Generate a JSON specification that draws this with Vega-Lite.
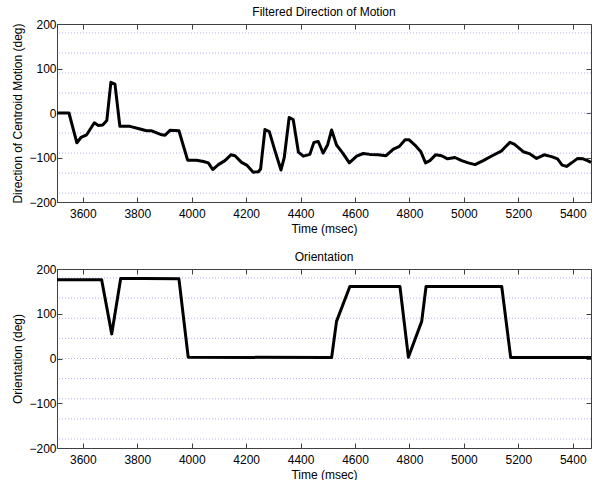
{
  "$schema": "https://vega.github.io/schema/vega-lite/v6.json",
  "autosize": {"type": "pad"},
  "padding": {"left": 11, "top": 6, "right": 0, "bottom": 0},
  "background": "white",
  "config": {
    "view": {"stroke": null},
    "font": "Liberation Sans",
    "axis": {"labelFont": "Liberation Sans", "titleFont": "Liberation Sans", "labelFontSize": 12, "titleFontSize": 12, "titleFontWeight": "normal", "labelColor": "#000", "titleColor": "#000", "domainColor": "#404040", "tickColor": "#404040", "tickSize": -5, "grid": false, "labelPadding": 6},
    "axisX": {"labelPadding": 11, "format": "d"},
    "title": {"font": "Liberation Sans", "fontSize": 12, "fontWeight": "normal", "color": "#000", "offset": -1},
    "concat": {"spacing": 17}
  },
  "datasets": {
    "grid": [{"g": 180}, {"g": 135}, {"g": 90}, {"g": 45}, {"g": 0}, {"g": -45}, {"g": -90}, {"g": -135}, {"g": -180}],
    "motion": [
      {"t": 3505, "v": 0}, {"t": 3549, "v": 0}, {"t": 3578, "v": -67}, {"t": 3593, "v": -55}, {"t": 3614, "v": -49},
      {"t": 3642, "v": -22}, {"t": 3657, "v": -28}, {"t": 3673, "v": -27}, {"t": 3688, "v": -17}, {"t": 3703, "v": 69},
      {"t": 3718, "v": 65}, {"t": 3736, "v": -30}, {"t": 3773, "v": -30}, {"t": 3810, "v": -36}, {"t": 3834, "v": -40},
      {"t": 3853, "v": -40}, {"t": 3890, "v": -49}, {"t": 3902, "v": -50}, {"t": 3920, "v": -39}, {"t": 3953, "v": -40},
      {"t": 3969, "v": -73}, {"t": 3985, "v": -106}, {"t": 4018, "v": -106}, {"t": 4043, "v": -109}, {"t": 4061, "v": -112},
      {"t": 4077, "v": -127}, {"t": 4098, "v": -116}, {"t": 4122, "v": -107}, {"t": 4144, "v": -94}, {"t": 4159, "v": -96},
      {"t": 4183, "v": -111}, {"t": 4202, "v": -117}, {"t": 4226, "v": -133}, {"t": 4245, "v": -132}, {"t": 4253, "v": -126},
      {"t": 4269, "v": -37}, {"t": 4285, "v": -42}, {"t": 4306, "v": -85}, {"t": 4328, "v": -128}, {"t": 4340, "v": -100},
      {"t": 4358, "v": -10}, {"t": 4373, "v": -15}, {"t": 4392, "v": -88}, {"t": 4410, "v": -97}, {"t": 4434, "v": -93},
      {"t": 4449, "v": -66}, {"t": 4465, "v": -64}, {"t": 4483, "v": -90}, {"t": 4499, "v": -72}, {"t": 4514, "v": -38},
      {"t": 4532, "v": -72}, {"t": 4555, "v": -90}, {"t": 4579, "v": -112}, {"t": 4606, "v": -97}, {"t": 4630, "v": -91},
      {"t": 4655, "v": -93}, {"t": 4685, "v": -94}, {"t": 4714, "v": -96}, {"t": 4741, "v": -81}, {"t": 4763, "v": -75},
      {"t": 4784, "v": -60}, {"t": 4798, "v": -60}, {"t": 4820, "v": -72}, {"t": 4842, "v": -87}, {"t": 4859, "v": -112},
      {"t": 4875, "v": -107}, {"t": 4896, "v": -94}, {"t": 4918, "v": -96}, {"t": 4940, "v": -103}, {"t": 4967, "v": -100},
      {"t": 4992, "v": -107}, {"t": 5016, "v": -112}, {"t": 5041, "v": -116}, {"t": 5071, "v": -107}, {"t": 5104, "v": -96},
      {"t": 5139, "v": -85}, {"t": 5151, "v": -77}, {"t": 5169, "v": -66}, {"t": 5185, "v": -70}, {"t": 5218, "v": -87},
      {"t": 5243, "v": -92}, {"t": 5267, "v": -102}, {"t": 5295, "v": -94}, {"t": 5322, "v": -98}, {"t": 5344, "v": -103},
      {"t": 5361, "v": -117}, {"t": 5377, "v": -120}, {"t": 5396, "v": -112}, {"t": 5418, "v": -102}, {"t": 5438, "v": -103},
      {"t": 5454, "v": -107}, {"t": 5467, "v": -111}
    ],
    "orient": [
      {"t": 3505, "v": 176}, {"t": 3669, "v": 176}, {"t": 3706, "v": 55}, {"t": 3739, "v": 179}, {"t": 3822, "v": 179},
      {"t": 3953, "v": 178}, {"t": 3987, "v": 3}, {"t": 4490, "v": 2}, {"t": 4514, "v": 2}, {"t": 4532, "v": 83},
      {"t": 4581, "v": 161}, {"t": 4765, "v": 161}, {"t": 4796, "v": 3}, {"t": 4845, "v": 83}, {"t": 4861, "v": 161},
      {"t": 5139, "v": 161}, {"t": 5172, "v": 2}, {"t": 5467, "v": 2}
    ]
  },
  "vconcat": [
    {
      "title": "Filtered Direction of Motion",
      "width": 534,
      "height": 178,
      "layer": [
        {
          "data": {"name": "grid"},
          "mark": {"type": "rule", "strokeDash": [1, 2], "color": "#b0b0ff", "strokeWidth": 1},
          "encoding": {"y": {"field": "g", "type": "quantitative", "scale": {"domain": [-200, 200], "nice": false}, "axis": null}}
        },
        {
          "data": {"name": "motion"},
          "mark": {"type": "line", "color": "#000", "strokeWidth": 3, "strokeJoin": "round"},
          "encoding": {
            "x": {"field": "t", "type": "quantitative", "scale": {"domain": [3505, 5467], "nice": false, "zero": false}, "axis": {"orient": "bottom", "title": "Time (msec)", "values": [3600, 3800, 4000, 4200, 4400, 4600, 4800, 5000, 5200, 5400]}},
            "y": {"field": "v", "type": "quantitative", "scale": {"domain": [-200, 200], "nice": false}, "axis": {"orient": "left", "title": "Direction of Centroid Motion (deg)", "values": [-200, -100, 0, 100, 200]}}
          }
        },
        {
          "data": {"name": "motion"},
          "mark": {"type": "point", "opacity": 0},
          "encoding": {
            "x": {"field": "t", "type": "quantitative", "axis": {"orient": "top", "labels": false, "title": null, "values": [3600, 3800, 4000, 4200, 4400, 4600, 4800, 5000, 5200, 5400]}},
            "y": {"field": "v", "type": "quantitative", "axis": {"orient": "right", "labels": false, "title": null, "values": [-200, -100, 0, 100, 200]}}
          }
        }
      ],
      "resolve": {"axis": {"x": "independent", "y": "independent"}}
    },
    {
      "title": "Orientation",
      "width": 534,
      "height": 179,
      "layer": [
        {
          "data": {"name": "grid"},
          "mark": {"type": "rule", "strokeDash": [1, 2], "color": "#b0b0ff", "strokeWidth": 1},
          "encoding": {"y": {"field": "g", "type": "quantitative", "scale": {"domain": [-200, 200], "nice": false}, "axis": null}}
        },
        {
          "data": {"name": "orient"},
          "mark": {"type": "line", "color": "#000", "strokeWidth": 3, "strokeJoin": "round"},
          "encoding": {
            "x": {"field": "t", "type": "quantitative", "scale": {"domain": [3505, 5467], "nice": false, "zero": false}, "axis": {"orient": "bottom", "title": "Time (msec)", "values": [3600, 3800, 4000, 4200, 4400, 4600, 4800, 5000, 5200, 5400]}},
            "y": {"field": "v", "type": "quantitative", "scale": {"domain": [-200, 200], "nice": false}, "axis": {"orient": "left", "title": "Orientation (deg)", "values": [-200, -100, 0, 100, 200]}}
          }
        },
        {
          "data": {"name": "orient"},
          "mark": {"type": "point", "opacity": 0},
          "encoding": {
            "x": {"field": "t", "type": "quantitative", "axis": {"orient": "top", "labels": false, "title": null, "values": [3600, 3800, 4000, 4200, 4400, 4600, 4800, 5000, 5200, 5400]}},
            "y": {"field": "v", "type": "quantitative", "axis": {"orient": "right", "labels": false, "title": null, "values": [-200, -100, 0, 100, 200]}}
          }
        }
      ],
      "resolve": {"axis": {"x": "independent", "y": "independent"}}
    }
  ]
}
